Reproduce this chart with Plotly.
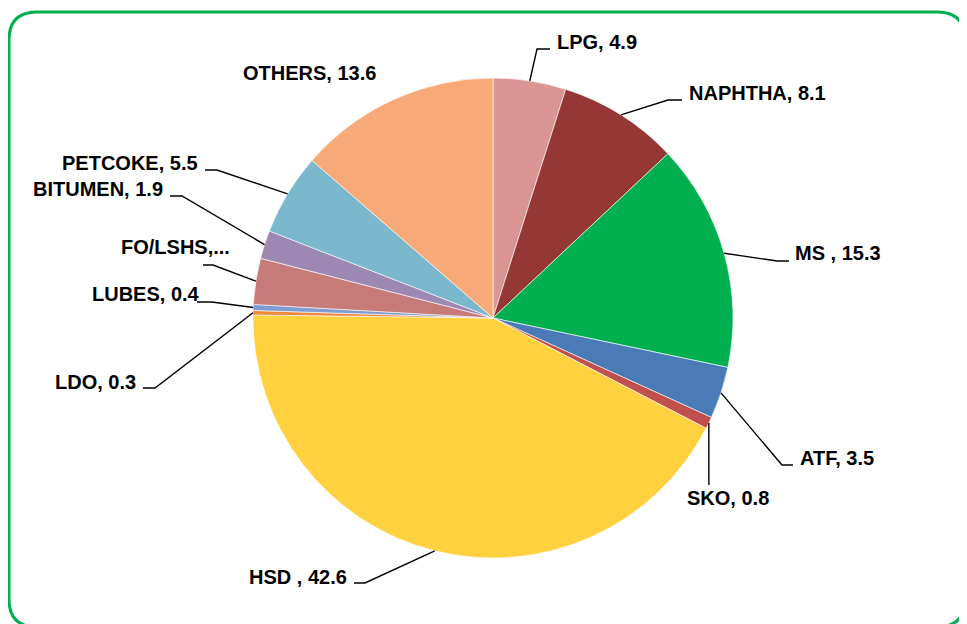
import math
import plotly.graph_objects as go

# ---- data ----
products = ["LPG", "NAPHTHA", "MS ", "ATF", "SKO", "HSD ", "LDO", "LUBES",
            "FO/LSHS", "BITUMEN", "PETCOKE", "OTHERS"]
shares = [4.9, 8.1, 15.3, 3.5, 0.8, 42.6, 0.3, 0.4, 3.1, 1.9, 5.5, 13.6]
label_texts = ["LPG, 4.9", "NAPHTHA, 8.1", "MS , 15.3", "ATF, 3.5", "SKO, 0.8",
               "HSD , 42.6", "LDO, 0.3", "LUBES, 0.4", "FO/LSHS,...",
               "BITUMEN, 1.9", "PETCOKE, 5.5", "OTHERS, 13.6"]
colors = ["#D99694", "#953735", "#00B050", "#4A7BB7", "#C0504D", "#FFD13F",
          "#EE8A3E", "#7F9DD0", "#C77B78", "#9D88B3", "#7BB8CD", "#F7AA78"]

# ---- layout geometry (window pixels; page body has an 8px margin) ----
OFF = 8
W, H = 967 - OFF, 624 - OFF
CX, CY, R = 493, 318, 240

def px(x):
    return (x - OFF) / W

def py(y):
    return 1 - (y - OFF) / H

# label placement: (text x, text y, anchor, leader elbow pts)
placement = {
    "LPG":     (555, 42, "left",  [(537, 49), (550, 49)]),
    "NAPHTHA": (687, 93, "left",  [(668, 100), (682, 100)]),
    "MS ":     (793, 253, "left", [(777, 261), (789, 261)]),
    "ATF":     (798, 458, "left", [(782, 465), (793, 465)]),
    "SKO":     (685, 498, "left", "vertical"),
    "HSD ":    (349, 577, "right", [(365, 583), (354, 583)]),
    "LDO":     (138, 382, "right", [(155, 388), (143, 388)]),
    "LUBES":   (202, 294, "right", [(212, 302), (197, 302)]),
    "FO/LSHS": (232, 247, "right", [(213, 265), (203, 265)]),
    "BITUMEN": (165, 189, "right", [(182, 196), (170, 196)]),
    "PETCOKE": (200, 163, "right", [(217, 170), (205, 170)]),
    "OTHERS":  (378, 73, "right", None),
}

fig = go.Figure(go.Pie(
    labels=products, values=shares, sort=False, direction="clockwise",
    rotation=0, marker=dict(colors=colors, line=dict(color="white", width=0.6)),
    textinfo="none", hoverinfo="label+value", showlegend=False,
    domain=dict(x=[px(CX - R), px(CX + R)], y=[py(CY + R), py(CY - R)]),
))

total = sum(shares)
cum = 0.0
shapes = []
annotations = []
for name, val, txt in zip(products, shares, label_texts):
    mid = (cum + val / 2) / total * 2 * math.pi
    cum += val
    sx = CX + R * math.sin(mid)
    sy = CY - R * math.cos(mid)
    tx, ty, anchor, leader = placement[name]
    if leader == "vertical":
        pts = [(sx, sy), (sx, 485)]
    elif leader:
        pts = [(sx, sy)] + leader
    else:
        pts = None
    if pts:
        path = "M " + " L ".join(f"{px(a):.5f},{py(b):.5f}" for a, b in pts)
        shapes.append(dict(type="path", xref="paper", yref="paper", path=path,
                           line=dict(color="black", width=1.4)))
    annotations.append(dict(
        x=px(tx), y=py(ty), xref="paper", yref="paper", text=txt,
        showarrow=False, xanchor=anchor, yanchor="middle",
        font=dict(family="Liberation Sans, Arial", size=20, color="black",
                  weight="bold"),
    ))

# rounded green border
x0, y0, x1, y1, rr = 9, 12, 965, 627, 28
def P(a, b):
    return f"{px(a):.5f},{py(b):.5f}"
border = (f"M {P(x0 + rr, y0)} L {P(x1 - rr, y0)} Q {P(x1, y0)} {P(x1, y0 + rr)} "
          f"L {P(x1, y1 - rr)} Q {P(x1, y1)} {P(x1 - rr, y1)} "
          f"L {P(x0 + rr, y1)} Q {P(x0, y1)} {P(x0, y1 - rr)} "
          f"L {P(x0, y0 + rr)} Q {P(x0, y0)} {P(x0 + rr, y0)} Z")
shapes.append(dict(type="path", xref="paper", yref="paper", path=border,
                   line=dict(color="#00B050", width=3)))

fig.update_layout(
    width=W, height=H, autosize=False,
    margin=dict(l=0, r=0, t=0, b=0),
    paper_bgcolor="white", plot_bgcolor="white",
    shapes=shapes, annotations=annotations,
)

fig.write_html("out.html")
